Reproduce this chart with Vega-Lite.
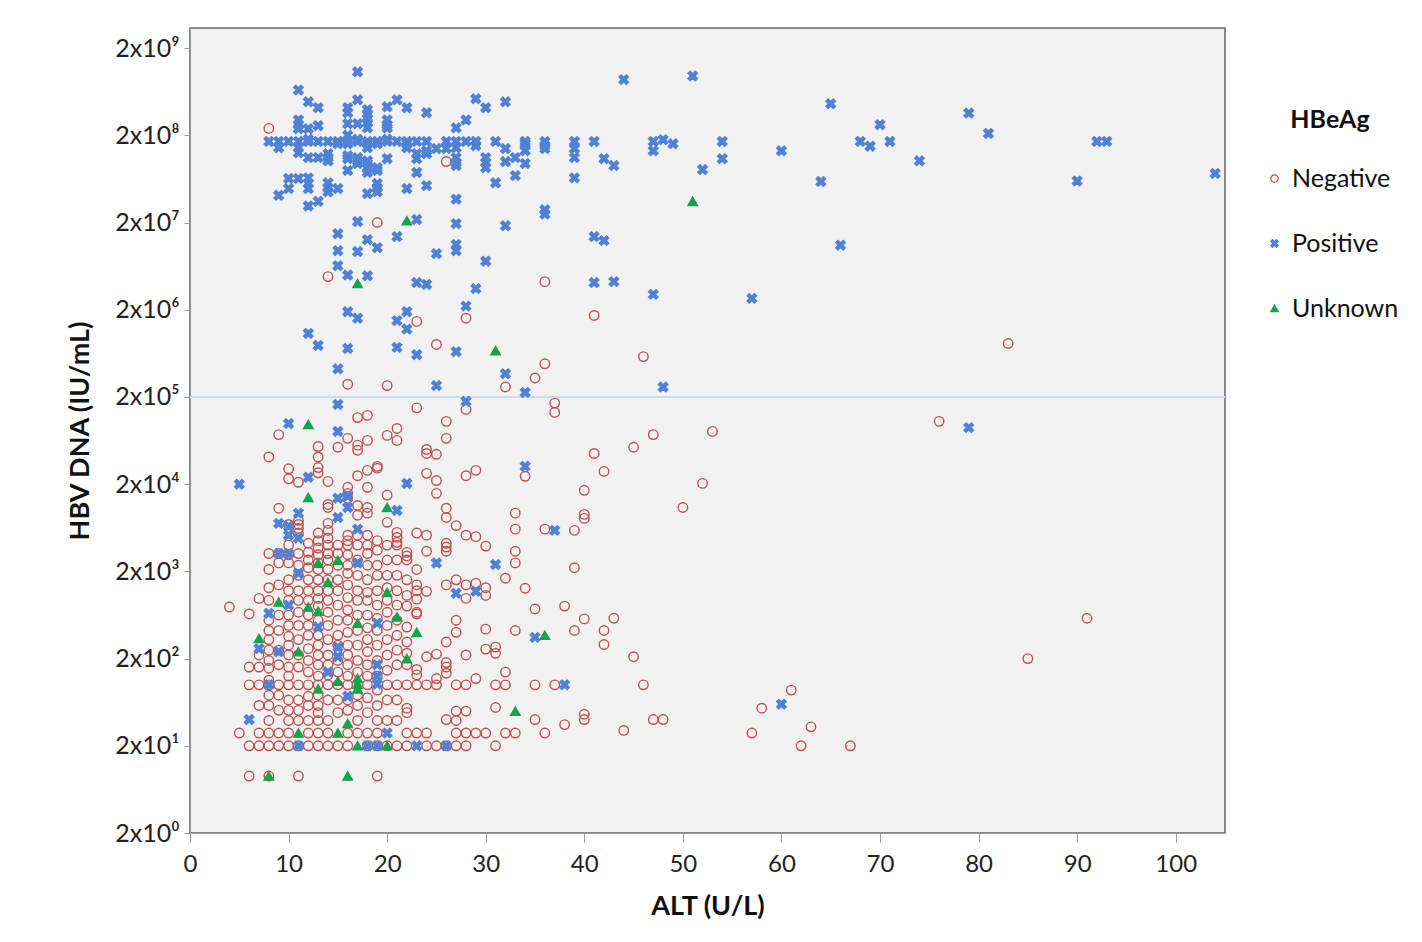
{
"$schema":"https://vega.github.io/schema/vega-lite/v6.json",
"width":1035,"height":805,
"autosize":{"type":"none"},
"padding":{"left":190,"top":28,"right":197,"bottom":109},
"background":"white",
"config":{"font":"Lato","view":{"fill":"#f1f1f1","stroke":"#666666","strokeWidth":1.5},
"axis":{"domainColor":"#999999","tickColor":"#999999","labelColor":"#222222","titleColor":"#111111","labelFont":"Lato","titleFont":"Lato","labelFontSize":24,"titleFontSize":27,"titleFontWeight":"bold","grid":false,"labelFlush":false}},
"data":{"values":[
{"ALT":4,"DNA":780,"HBeAg":"Negative"},
{"ALT":5,"DNA":28,"HBeAg":"Negative"},
{"ALT":6,"DNA":650,"HBeAg":"Negative"},{"ALT":6,"DNA":160,"HBeAg":"Negative"},{"ALT":6,"DNA":100,"HBeAg":"Negative"},{"ALT":6,"DNA":20,"HBeAg":"Negative"},{"ALT":6,"DNA":9,"HBeAg":"Negative"},
{"ALT":7,"DNA":980,"HBeAg":"Negative"},{"ALT":7,"DNA":220,"HBeAg":"Negative"},{"ALT":7,"DNA":160,"HBeAg":"Negative"},{"ALT":7,"DNA":100,"HBeAg":"Negative"},{"ALT":7,"DNA":58,"HBeAg":"Negative"},{"ALT":7,"DNA":28,"HBeAg":"Negative"},{"ALT":7,"DNA":20,"HBeAg":"Negative"},
{"ALT":8,"DNA":2.4e8,"HBeAg":"Negative"},{"ALT":8,"DNA":41000,"HBeAg":"Negative"},{"ALT":8,"DNA":3200,"HBeAg":"Negative"},{"ALT":8,"DNA":2100,"HBeAg":"Negative"},{"ALT":8,"DNA":1300,"HBeAg":"Negative"},{"ALT":8,"DNA":930,"HBeAg":"Negative"},{"ALT":8,"DNA":550,"HBeAg":"Negative"},{"ALT":8,"DNA":420,"HBeAg":"Negative"},{"ALT":8,"DNA":330,"HBeAg":"Negative"},{"ALT":8,"DNA":250,"HBeAg":"Negative"},{"ALT":8,"DNA":190,"HBeAg":"Negative"},{"ALT":8,"DNA":155,"HBeAg":"Negative"},{"ALT":8,"DNA":113,"HBeAg":"Negative"},{"ALT":8,"DNA":100,"HBeAg":"Negative"},{"ALT":8,"DNA":76,"HBeAg":"Negative"},{"ALT":8,"DNA":58,"HBeAg":"Negative"},{"ALT":8,"DNA":39,"HBeAg":"Negative"},{"ALT":8,"DNA":28,"HBeAg":"Negative"},{"ALT":8,"DNA":20,"HBeAg":"Negative"},{"ALT":8,"DNA":9,"HBeAg":"Negative"},
{"ALT":9,"DNA":74000,"HBeAg":"Negative"},{"ALT":9,"DNA":10600,"HBeAg":"Negative"},{"ALT":9,"DNA":3200,"HBeAg":"Negative"},{"ALT":9,"DNA":2500,"HBeAg":"Negative"},{"ALT":9,"DNA":1400,"HBeAg":"Negative"},{"ALT":9,"DNA":630,"HBeAg":"Negative"},{"ALT":9,"DNA":420,"HBeAg":"Negative"},{"ALT":9,"DNA":250,"HBeAg":"Negative"},{"ALT":9,"DNA":170,"HBeAg":"Negative"},{"ALT":9,"DNA":100,"HBeAg":"Negative"},{"ALT":9,"DNA":76,"HBeAg":"Negative"},{"ALT":9,"DNA":51,"HBeAg":"Negative"},{"ALT":9,"DNA":28,"HBeAg":"Negative"},{"ALT":9,"DNA":20,"HBeAg":"Negative"},
{"ALT":10,"DNA":30000,"HBeAg":"Negative"},{"ALT":10,"DNA":23000,"HBeAg":"Negative"},{"ALT":10,"DNA":6900,"HBeAg":"Negative"},{"ALT":10,"DNA":4000,"HBeAg":"Negative"},{"ALT":10,"DNA":3100,"HBeAg":"Negative"},{"ALT":10,"DNA":2500,"HBeAg":"Negative"},{"ALT":10,"DNA":1600,"HBeAg":"Negative"},{"ALT":10,"DNA":1200,"HBeAg":"Negative"},{"ALT":10,"DNA":930,"HBeAg":"Negative"},{"ALT":10,"DNA":630,"HBeAg":"Negative"},{"ALT":10,"DNA":480,"HBeAg":"Negative"},{"ALT":10,"DNA":360,"HBeAg":"Negative"},{"ALT":10,"DNA":285,"HBeAg":"Negative"},{"ALT":10,"DNA":220,"HBeAg":"Negative"},{"ALT":10,"DNA":160,"HBeAg":"Negative"},{"ALT":10,"DNA":126,"HBeAg":"Negative"},{"ALT":10,"DNA":100,"HBeAg":"Negative"},{"ALT":10,"DNA":67,"HBeAg":"Negative"},{"ALT":10,"DNA":51,"HBeAg":"Negative"},{"ALT":10,"DNA":39,"HBeAg":"Negative"},{"ALT":10,"DNA":28,"HBeAg":"Negative"},{"ALT":10,"DNA":20,"HBeAg":"Negative"},
{"ALT":11,"DNA":21000,"HBeAg":"Negative"},{"ALT":11,"DNA":7700,"HBeAg":"Negative"},{"ALT":11,"DNA":6900,"HBeAg":"Negative"},{"ALT":11,"DNA":6200,"HBeAg":"Negative"},{"ALT":11,"DNA":5500,"HBeAg":"Negative"},{"ALT":11,"DNA":3200,"HBeAg":"Negative"},{"ALT":11,"DNA":2350,"HBeAg":"Negative"},{"ALT":11,"DNA":1800,"HBeAg":"Negative"},{"ALT":11,"DNA":1200,"HBeAg":"Negative"},{"ALT":11,"DNA":930,"HBeAg":"Negative"},{"ALT":11,"DNA":680,"HBeAg":"Negative"},{"ALT":11,"DNA":480,"HBeAg":"Negative"},{"ALT":11,"DNA":330,"HBeAg":"Negative"},{"ALT":11,"DNA":220,"HBeAg":"Negative"},{"ALT":11,"DNA":160,"HBeAg":"Negative"},{"ALT":11,"DNA":100,"HBeAg":"Negative"},{"ALT":11,"DNA":67,"HBeAg":"Negative"},{"ALT":11,"DNA":51,"HBeAg":"Negative"},{"ALT":11,"DNA":39,"HBeAg":"Negative"},{"ALT":11,"DNA":20,"HBeAg":"Negative"},{"ALT":11,"DNA":9,"HBeAg":"Negative"},
{"ALT":12,"DNA":4200,"HBeAg":"Negative"},{"ALT":12,"DNA":3300,"HBeAg":"Negative"},{"ALT":12,"DNA":2700,"HBeAg":"Negative"},{"ALT":12,"DNA":2200,"HBeAg":"Negative"},{"ALT":12,"DNA":1600,"HBeAg":"Negative"},{"ALT":12,"DNA":1200,"HBeAg":"Negative"},{"ALT":12,"DNA":930,"HBeAg":"Negative"},{"ALT":12,"DNA":630,"HBeAg":"Negative"},{"ALT":12,"DNA":480,"HBeAg":"Negative"},{"ALT":12,"DNA":370,"HBeAg":"Negative"},{"ALT":12,"DNA":260,"HBeAg":"Negative"},{"ALT":12,"DNA":190,"HBeAg":"Negative"},{"ALT":12,"DNA":140,"HBeAg":"Negative"},{"ALT":12,"DNA":100,"HBeAg":"Negative"},{"ALT":12,"DNA":74,"HBeAg":"Negative"},{"ALT":12,"DNA":58,"HBeAg":"Negative"},{"ALT":12,"DNA":39,"HBeAg":"Negative"},{"ALT":12,"DNA":28,"HBeAg":"Negative"},{"ALT":12,"DNA":20,"HBeAg":"Negative"},
{"ALT":13,"DNA":54000,"HBeAg":"Negative"},{"ALT":13,"DNA":41000,"HBeAg":"Negative"},{"ALT":13,"DNA":31000,"HBeAg":"Negative"},{"ALT":13,"DNA":27000,"HBeAg":"Negative"},{"ALT":13,"DNA":5500,"HBeAg":"Negative"},{"ALT":13,"DNA":4500,"HBeAg":"Negative"},{"ALT":13,"DNA":3700,"HBeAg":"Negative"},{"ALT":13,"DNA":3100,"HBeAg":"Negative"},{"ALT":13,"DNA":2500,"HBeAg":"Negative"},{"ALT":13,"DNA":2100,"HBeAg":"Negative"},{"ALT":13,"DNA":1600,"HBeAg":"Negative"},{"ALT":13,"DNA":1200,"HBeAg":"Negative"},{"ALT":13,"DNA":980,"HBeAg":"Negative"},{"ALT":13,"DNA":800,"HBeAg":"Negative"},{"ALT":13,"DNA":550,"HBeAg":"Negative"},{"ALT":13,"DNA":370,"HBeAg":"Negative"},{"ALT":13,"DNA":285,"HBeAg":"Negative"},{"ALT":13,"DNA":220,"HBeAg":"Negative"},{"ALT":13,"DNA":170,"HBeAg":"Negative"},{"ALT":13,"DNA":126,"HBeAg":"Negative"},{"ALT":13,"DNA":100,"HBeAg":"Negative"},{"ALT":13,"DNA":76,"HBeAg":"Negative"},{"ALT":13,"DNA":58,"HBeAg":"Negative"},{"ALT":13,"DNA":48,"HBeAg":"Negative"},{"ALT":13,"DNA":39,"HBeAg":"Negative"},{"ALT":13,"DNA":28,"HBeAg":"Negative"},{"ALT":13,"DNA":20,"HBeAg":"Negative"},
{"ALT":14,"DNA":4.8e6,"HBeAg":"Negative"},{"ALT":14,"DNA":21500,"HBeAg":"Negative"},{"ALT":14,"DNA":11700,"HBeAg":"Negative"},{"ALT":14,"DNA":10800,"HBeAg":"Negative"},{"ALT":14,"DNA":7100,"HBeAg":"Negative"},{"ALT":14,"DNA":5900,"HBeAg":"Negative"},{"ALT":14,"DNA":4800,"HBeAg":"Negative"},{"ALT":14,"DNA":4000,"HBeAg":"Negative"},{"ALT":14,"DNA":3200,"HBeAg":"Negative"},{"ALT":14,"DNA":2700,"HBeAg":"Negative"},{"ALT":14,"DNA":2100,"HBeAg":"Negative"},{"ALT":14,"DNA":1600,"HBeAg":"Negative"},{"ALT":14,"DNA":1200,"HBeAg":"Negative"},{"ALT":14,"DNA":930,"HBeAg":"Negative"},{"ALT":14,"DNA":680,"HBeAg":"Negative"},{"ALT":14,"DNA":480,"HBeAg":"Negative"},{"ALT":14,"DNA":330,"HBeAg":"Negative"},{"ALT":14,"DNA":220,"HBeAg":"Negative"},{"ALT":14,"DNA":170,"HBeAg":"Negative"},{"ALT":14,"DNA":130,"HBeAg":"Negative"},{"ALT":14,"DNA":100,"HBeAg":"Negative"},{"ALT":14,"DNA":67,"HBeAg":"Negative"},{"ALT":14,"DNA":39,"HBeAg":"Negative"},{"ALT":14,"DNA":28,"HBeAg":"Negative"},{"ALT":14,"DNA":20,"HBeAg":"Negative"},
{"ALT":15,"DNA":53000,"HBeAg":"Negative"},{"ALT":15,"DNA":4000,"HBeAg":"Negative"},{"ALT":15,"DNA":3200,"HBeAg":"Negative"},{"ALT":15,"DNA":2350,"HBeAg":"Negative"},{"ALT":15,"DNA":1600,"HBeAg":"Negative"},{"ALT":15,"DNA":1200,"HBeAg":"Negative"},{"ALT":15,"DNA":820,"HBeAg":"Negative"},{"ALT":15,"DNA":550,"HBeAg":"Negative"},{"ALT":15,"DNA":370,"HBeAg":"Negative"},{"ALT":15,"DNA":285,"HBeAg":"Negative"},{"ALT":15,"DNA":190,"HBeAg":"Negative"},{"ALT":15,"DNA":140,"HBeAg":"Negative"},{"ALT":15,"DNA":100,"HBeAg":"Negative"},{"ALT":15,"DNA":67,"HBeAg":"Negative"},{"ALT":15,"DNA":48,"HBeAg":"Negative"},{"ALT":15,"DNA":20,"HBeAg":"Negative"},
{"ALT":16,"DNA":280000,"HBeAg":"Negative"},{"ALT":16,"DNA":67000,"HBeAg":"Negative"},{"ALT":16,"DNA":18400,"HBeAg":"Negative"},{"ALT":16,"DNA":15700,"HBeAg":"Negative"},{"ALT":16,"DNA":13700,"HBeAg":"Negative"},{"ALT":16,"DNA":5200,"HBeAg":"Negative"},{"ALT":16,"DNA":4500,"HBeAg":"Negative"},{"ALT":16,"DNA":4000,"HBeAg":"Negative"},{"ALT":16,"DNA":3100,"HBeAg":"Negative"},{"ALT":16,"DNA":2350,"HBeAg":"Negative"},{"ALT":16,"DNA":1900,"HBeAg":"Negative"},{"ALT":16,"DNA":1400,"HBeAg":"Negative"},{"ALT":16,"DNA":1000,"HBeAg":"Negative"},{"ALT":16,"DNA":720,"HBeAg":"Negative"},{"ALT":16,"DNA":550,"HBeAg":"Negative"},{"ALT":16,"DNA":400,"HBeAg":"Negative"},{"ALT":16,"DNA":285,"HBeAg":"Negative"},{"ALT":16,"DNA":220,"HBeAg":"Negative"},{"ALT":16,"DNA":170,"HBeAg":"Negative"},{"ALT":16,"DNA":126,"HBeAg":"Negative"},{"ALT":16,"DNA":100,"HBeAg":"Negative"},{"ALT":16,"DNA":67,"HBeAg":"Negative"},{"ALT":16,"DNA":51,"HBeAg":"Negative"},{"ALT":16,"DNA":28,"HBeAg":"Negative"},{"ALT":16,"DNA":20,"HBeAg":"Negative"},
{"ALT":17,"DNA":116000,"HBeAg":"Negative"},{"ALT":17,"DNA":56000,"HBeAg":"Negative"},{"ALT":17,"DNA":49000,"HBeAg":"Negative"},{"ALT":17,"DNA":25000,"HBeAg":"Negative"},{"ALT":17,"DNA":11400,"HBeAg":"Negative"},{"ALT":17,"DNA":8800,"HBeAg":"Negative"},{"ALT":17,"DNA":5200,"HBeAg":"Negative"},{"ALT":17,"DNA":4000,"HBeAg":"Negative"},{"ALT":17,"DNA":2700,"HBeAg":"Negative"},{"ALT":17,"DNA":1800,"HBeAg":"Negative"},{"ALT":17,"DNA":1200,"HBeAg":"Negative"},{"ALT":17,"DNA":930,"HBeAg":"Negative"},{"ALT":17,"DNA":630,"HBeAg":"Negative"},{"ALT":17,"DNA":420,"HBeAg":"Negative"},{"ALT":17,"DNA":285,"HBeAg":"Negative"},{"ALT":17,"DNA":190,"HBeAg":"Negative"},{"ALT":17,"DNA":140,"HBeAg":"Negative"},{"ALT":17,"DNA":76,"HBeAg":"Negative"},{"ALT":17,"DNA":58,"HBeAg":"Negative"},{"ALT":17,"DNA":39,"HBeAg":"Negative"},{"ALT":17,"DNA":28,"HBeAg":"Negative"},
{"ALT":18,"DNA":123000,"HBeAg":"Negative"},{"ALT":18,"DNA":63500,"HBeAg":"Negative"},{"ALT":18,"DNA":28800,"HBeAg":"Negative"},{"ALT":18,"DNA":18400,"HBeAg":"Negative"},{"ALT":18,"DNA":10800,"HBeAg":"Negative"},{"ALT":18,"DNA":9300,"HBeAg":"Negative"},{"ALT":18,"DNA":5200,"HBeAg":"Negative"},{"ALT":18,"DNA":4000,"HBeAg":"Negative"},{"ALT":18,"DNA":3200,"HBeAg":"Negative"},{"ALT":18,"DNA":2350,"HBeAg":"Negative"},{"ALT":18,"DNA":1600,"HBeAg":"Negative"},{"ALT":18,"DNA":1150,"HBeAg":"Negative"},{"ALT":18,"DNA":930,"HBeAg":"Negative"},{"ALT":18,"DNA":630,"HBeAg":"Negative"},{"ALT":18,"DNA":450,"HBeAg":"Negative"},{"ALT":18,"DNA":330,"HBeAg":"Negative"},{"ALT":18,"DNA":240,"HBeAg":"Negative"},{"ALT":18,"DNA":170,"HBeAg":"Negative"},{"ALT":18,"DNA":126,"HBeAg":"Negative"},{"ALT":18,"DNA":100,"HBeAg":"Negative"},{"ALT":18,"DNA":71,"HBeAg":"Negative"},{"ALT":18,"DNA":48,"HBeAg":"Negative"},{"ALT":18,"DNA":28,"HBeAg":"Negative"},{"ALT":18,"DNA":20,"HBeAg":"Negative"},
{"ALT":19,"DNA":2.0e7,"HBeAg":"Negative"},{"ALT":19,"DNA":32000,"HBeAg":"Negative"},{"ALT":19,"DNA":30500,"HBeAg":"Negative"},{"ALT":19,"DNA":4500,"HBeAg":"Negative"},{"ALT":19,"DNA":3500,"HBeAg":"Negative"},{"ALT":19,"DNA":2350,"HBeAg":"Negative"},{"ALT":19,"DNA":1800,"HBeAg":"Negative"},{"ALT":19,"DNA":1200,"HBeAg":"Negative"},{"ALT":19,"DNA":820,"HBeAg":"Negative"},{"ALT":19,"DNA":580,"HBeAg":"Negative"},{"ALT":19,"DNA":420,"HBeAg":"Negative"},{"ALT":19,"DNA":285,"HBeAg":"Negative"},{"ALT":19,"DNA":190,"HBeAg":"Negative"},{"ALT":19,"DNA":126,"HBeAg":"Negative"},{"ALT":19,"DNA":87,"HBeAg":"Negative"},{"ALT":19,"DNA":58,"HBeAg":"Negative"},{"ALT":19,"DNA":39,"HBeAg":"Negative"},{"ALT":19,"DNA":28,"HBeAg":"Negative"},{"ALT":19,"DNA":20,"HBeAg":"Negative"},{"ALT":19,"DNA":9,"HBeAg":"Negative"},
{"ALT":20,"DNA":270000,"HBeAg":"Negative"},{"ALT":20,"DNA":72500,"HBeAg":"Negative"},{"ALT":20,"DNA":15000,"HBeAg":"Negative"},{"ALT":20,"DNA":7300,"HBeAg":"Negative"},{"ALT":20,"DNA":4000,"HBeAg":"Negative"},{"ALT":20,"DNA":2700,"HBeAg":"Negative"},{"ALT":20,"DNA":1800,"HBeAg":"Negative"},{"ALT":20,"DNA":1300,"HBeAg":"Negative"},{"ALT":20,"DNA":930,"HBeAg":"Negative"},{"ALT":20,"DNA":680,"HBeAg":"Negative"},{"ALT":20,"DNA":480,"HBeAg":"Negative"},{"ALT":20,"DNA":330,"HBeAg":"Negative"},{"ALT":20,"DNA":220,"HBeAg":"Negative"},{"ALT":20,"DNA":147,"HBeAg":"Negative"},{"ALT":20,"DNA":100,"HBeAg":"Negative"},{"ALT":20,"DNA":67,"HBeAg":"Negative"},{"ALT":20,"DNA":39,"HBeAg":"Negative"},{"ALT":20,"DNA":20,"HBeAg":"Negative"},
{"ALT":21,"DNA":87000,"HBeAg":"Negative"},{"ALT":21,"DNA":63500,"HBeAg":"Negative"},{"ALT":21,"DNA":5600,"HBeAg":"Negative"},{"ALT":21,"DNA":4900,"HBeAg":"Negative"},{"ALT":21,"DNA":4300,"HBeAg":"Negative"},{"ALT":21,"DNA":4000,"HBeAg":"Negative"},{"ALT":21,"DNA":2700,"HBeAg":"Negative"},{"ALT":21,"DNA":1800,"HBeAg":"Negative"},{"ALT":21,"DNA":1200,"HBeAg":"Negative"},{"ALT":21,"DNA":820,"HBeAg":"Negative"},{"ALT":21,"DNA":550,"HBeAg":"Negative"},{"ALT":21,"DNA":370,"HBeAg":"Negative"},{"ALT":21,"DNA":250,"HBeAg":"Negative"},{"ALT":21,"DNA":170,"HBeAg":"Negative"},{"ALT":21,"DNA":100,"HBeAg":"Negative"},{"ALT":21,"DNA":67,"HBeAg":"Negative"},{"ALT":21,"DNA":39,"HBeAg":"Negative"},{"ALT":21,"DNA":20,"HBeAg":"Negative"},
{"ALT":22,"DNA":3300,"HBeAg":"Negative"},{"ALT":22,"DNA":3000,"HBeAg":"Negative"},{"ALT":22,"DNA":2700,"HBeAg":"Negative"},{"ALT":22,"DNA":1600,"HBeAg":"Negative"},{"ALT":22,"DNA":1060,"HBeAg":"Negative"},{"ALT":22,"DNA":800,"HBeAg":"Negative"},{"ALT":22,"DNA":460,"HBeAg":"Negative"},{"ALT":22,"DNA":310,"HBeAg":"Negative"},{"ALT":22,"DNA":230,"HBeAg":"Negative"},{"ALT":22,"DNA":170,"HBeAg":"Negative"},{"ALT":22,"DNA":100,"HBeAg":"Negative"},{"ALT":22,"DNA":54,"HBeAg":"Negative"},{"ALT":22,"DNA":48,"HBeAg":"Negative"},{"ALT":22,"DNA":28,"HBeAg":"Negative"},{"ALT":22,"DNA":20,"HBeAg":"Negative"},
{"ALT":23,"DNA":1.47e6,"HBeAg":"Negative"},{"ALT":23,"DNA":150000,"HBeAg":"Negative"},{"ALT":23,"DNA":5500,"HBeAg":"Negative"},{"ALT":23,"DNA":2100,"HBeAg":"Negative"},{"ALT":23,"DNA":1400,"HBeAg":"Negative"},{"ALT":23,"DNA":1200,"HBeAg":"Negative"},{"ALT":23,"DNA":960,"HBeAg":"Negative"},{"ALT":23,"DNA":680,"HBeAg":"Negative"},{"ALT":23,"DNA":650,"HBeAg":"Negative"},{"ALT":23,"DNA":150,"HBeAg":"Negative"},{"ALT":23,"DNA":130,"HBeAg":"Negative"},{"ALT":23,"DNA":100,"HBeAg":"Negative"},{"ALT":23,"DNA":28,"HBeAg":"Negative"},
{"ALT":24,"DNA":50000,"HBeAg":"Negative"},{"ALT":24,"DNA":45000,"HBeAg":"Negative"},{"ALT":24,"DNA":26600,"HBeAg":"Negative"},{"ALT":24,"DNA":5200,"HBeAg":"Negative"},{"ALT":24,"DNA":3400,"HBeAg":"Negative"},{"ALT":24,"DNA":1180,"HBeAg":"Negative"},{"ALT":24,"DNA":210,"HBeAg":"Negative"},{"ALT":24,"DNA":100,"HBeAg":"Negative"},{"ALT":24,"DNA":28,"HBeAg":"Negative"},{"ALT":24,"DNA":20,"HBeAg":"Negative"},
{"ALT":25,"DNA":800000,"HBeAg":"Negative"},{"ALT":25,"DNA":44000,"HBeAg":"Negative"},{"ALT":25,"DNA":22000,"HBeAg":"Negative"},{"ALT":25,"DNA":15700,"HBeAg":"Negative"},{"ALT":25,"DNA":225,"HBeAg":"Negative"},{"ALT":25,"DNA":118,"HBeAg":"Negative"},{"ALT":25,"DNA":100,"HBeAg":"Negative"},{"ALT":25,"DNA":20,"HBeAg":"Negative"},
{"ALT":26,"DNA":1.0e8,"HBeAg":"Negative"},{"ALT":26,"DNA":105000,"HBeAg":"Negative"},{"ALT":26,"DNA":67000,"HBeAg":"Negative"},{"ALT":26,"DNA":10600,"HBeAg":"Negative"},{"ALT":26,"DNA":8300,"HBeAg":"Negative"},{"ALT":26,"DNA":4200,"HBeAg":"Negative"},{"ALT":26,"DNA":3800,"HBeAg":"Negative"},{"ALT":26,"DNA":3400,"HBeAg":"Negative"},{"ALT":26,"DNA":1400,"HBeAg":"Negative"},{"ALT":26,"DNA":310,"HBeAg":"Negative"},{"ALT":26,"DNA":180,"HBeAg":"Negative"},{"ALT":26,"DNA":160,"HBeAg":"Negative"},{"ALT":26,"DNA":136,"HBeAg":"Negative"},{"ALT":26,"DNA":40,"HBeAg":"Negative"},{"ALT":26,"DNA":20,"HBeAg":"Negative"},
{"ALT":27,"DNA":6700,"HBeAg":"Negative"},{"ALT":27,"DNA":1600,"HBeAg":"Negative"},{"ALT":27,"DNA":550,"HBeAg":"Negative"},{"ALT":27,"DNA":400,"HBeAg":"Negative"},{"ALT":27,"DNA":100,"HBeAg":"Negative"},{"ALT":27,"DNA":50,"HBeAg":"Negative"},{"ALT":27,"DNA":39,"HBeAg":"Negative"},{"ALT":27,"DNA":28,"HBeAg":"Negative"},{"ALT":27,"DNA":20,"HBeAg":"Negative"},
{"ALT":28,"DNA":1.6e6,"HBeAg":"Negative"},{"ALT":28,"DNA":144000,"HBeAg":"Negative"},{"ALT":28,"DNA":25000,"HBeAg":"Negative"},{"ALT":28,"DNA":5200,"HBeAg":"Negative"},{"ALT":28,"DNA":1400,"HBeAg":"Negative"},{"ALT":28,"DNA":980,"HBeAg":"Negative"},{"ALT":28,"DNA":220,"HBeAg":"Negative"},{"ALT":28,"DNA":100,"HBeAg":"Negative"},{"ALT":28,"DNA":50,"HBeAg":"Negative"},{"ALT":28,"DNA":28,"HBeAg":"Negative"},{"ALT":28,"DNA":20,"HBeAg":"Negative"},
{"ALT":29,"DNA":28800,"HBeAg":"Negative"},{"ALT":29,"DNA":5000,"HBeAg":"Negative"},{"ALT":29,"DNA":1460,"HBeAg":"Negative"},{"ALT":29,"DNA":118,"HBeAg":"Negative"},{"ALT":29,"DNA":28,"HBeAg":"Negative"},
{"ALT":30,"DNA":3900,"HBeAg":"Negative"},{"ALT":30,"DNA":1300,"HBeAg":"Negative"},{"ALT":30,"DNA":1060,"HBeAg":"Negative"},{"ALT":30,"DNA":435,"HBeAg":"Negative"},{"ALT":30,"DNA":257,"HBeAg":"Negative"},{"ALT":30,"DNA":28,"HBeAg":"Negative"},
{"ALT":31,"DNA":271,"HBeAg":"Negative"},{"ALT":31,"DNA":230,"HBeAg":"Negative"},{"ALT":31,"DNA":100,"HBeAg":"Negative"},{"ALT":31,"DNA":55,"HBeAg":"Negative"},{"ALT":31,"DNA":20,"HBeAg":"Negative"},
{"ALT":32,"DNA":260000,"HBeAg":"Negative"},{"ALT":32,"DNA":1670,"HBeAg":"Negative"},{"ALT":32,"DNA":140,"HBeAg":"Negative"},{"ALT":32,"DNA":100,"HBeAg":"Negative"},{"ALT":32,"DNA":28,"HBeAg":"Negative"},
{"ALT":33,"DNA":9300,"HBeAg":"Negative"},{"ALT":33,"DNA":6100,"HBeAg":"Negative"},{"ALT":33,"DNA":3400,"HBeAg":"Negative"},{"ALT":33,"DNA":2500,"HBeAg":"Negative"},{"ALT":33,"DNA":420,"HBeAg":"Negative"},{"ALT":33,"DNA":28,"HBeAg":"Negative"},
{"ALT":34,"DNA":24600,"HBeAg":"Negative"},{"ALT":34,"DNA":1280,"HBeAg":"Negative"},
{"ALT":35,"DNA":330000,"HBeAg":"Negative"},{"ALT":35,"DNA":740,"HBeAg":"Negative"},{"ALT":35,"DNA":100,"HBeAg":"Negative"},{"ALT":35,"DNA":40,"HBeAg":"Negative"},
{"ALT":36,"DNA":4.2e6,"HBeAg":"Negative"},{"ALT":36,"DNA":480000,"HBeAg":"Negative"},{"ALT":36,"DNA":6100,"HBeAg":"Negative"},{"ALT":36,"DNA":28,"HBeAg":"Negative"},
{"ALT":37,"DNA":170000,"HBeAg":"Negative"},{"ALT":37,"DNA":133000,"HBeAg":"Negative"},{"ALT":37,"DNA":100,"HBeAg":"Negative"},
{"ALT":38,"DNA":800,"HBeAg":"Negative"},{"ALT":38,"DNA":35,"HBeAg":"Negative"},
{"ALT":39,"DNA":5900,"HBeAg":"Negative"},{"ALT":39,"DNA":2200,"HBeAg":"Negative"},{"ALT":39,"DNA":420,"HBeAg":"Negative"},
{"ALT":40,"DNA":17000,"HBeAg":"Negative"},{"ALT":40,"DNA":9000,"HBeAg":"Negative"},{"ALT":40,"DNA":8100,"HBeAg":"Negative"},{"ALT":40,"DNA":570,"HBeAg":"Negative"},{"ALT":40,"DNA":46,"HBeAg":"Negative"},{"ALT":40,"DNA":40,"HBeAg":"Negative"},
{"ALT":41,"DNA":1.72e6,"HBeAg":"Negative"},{"ALT":41,"DNA":45000,"HBeAg":"Negative"},
{"ALT":42,"DNA":28000,"HBeAg":"Negative"},{"ALT":42,"DNA":420,"HBeAg":"Negative"},{"ALT":42,"DNA":290,"HBeAg":"Negative"},
{"ALT":43,"DNA":580,"HBeAg":"Negative"},
{"ALT":44,"DNA":30,"HBeAg":"Negative"},
{"ALT":45,"DNA":53000,"HBeAg":"Negative"},{"ALT":45,"DNA":210,"HBeAg":"Negative"},
{"ALT":46,"DNA":580000,"HBeAg":"Negative"},{"ALT":46,"DNA":100,"HBeAg":"Negative"},
{"ALT":47,"DNA":74000,"HBeAg":"Negative"},{"ALT":47,"DNA":40,"HBeAg":"Negative"},
{"ALT":48,"DNA":40,"HBeAg":"Negative"},
{"ALT":50,"DNA":10800,"HBeAg":"Negative"},
{"ALT":52,"DNA":20400,"HBeAg":"Negative"},
{"ALT":53,"DNA":80500,"HBeAg":"Negative"},
{"ALT":57,"DNA":28,"HBeAg":"Negative"},
{"ALT":58,"DNA":54,"HBeAg":"Negative"},
{"ALT":61,"DNA":87,"HBeAg":"Negative"},
{"ALT":62,"DNA":20,"HBeAg":"Negative"},
{"ALT":63,"DNA":33,"HBeAg":"Negative"},
{"ALT":67,"DNA":20,"HBeAg":"Negative"},
{"ALT":76,"DNA":105000,"HBeAg":"Negative"},
{"ALT":83,"DNA":820000,"HBeAg":"Negative"},
{"ALT":85,"DNA":200,"HBeAg":"Negative"},
{"ALT":91,"DNA":580,"HBeAg":"Negative"},
{"ALT":17,"DNA":1.07e9,"HBeAg":"Positive"},{"ALT":11,"DNA":6.6e8,"HBeAg":"Positive"},{"ALT":12,"DNA":4.85e8,"HBeAg":"Positive"},{"ALT":13,"DNA":4.14e8,"HBeAg":"Positive"},{"ALT":17,"DNA":5.1e8,"HBeAg":"Positive"},{"ALT":16,"DNA":4.14e8,"HBeAg":"Positive"},{"ALT":16,"DNA":3.63e8,"HBeAg":"Positive"},{"ALT":18,"DNA":3.93e8,"HBeAg":"Positive"},{"ALT":18,"DNA":3.53e8,"HBeAg":"Positive"},{"ALT":18,"DNA":3.1e8,"HBeAg":"Positive"},{"ALT":20,"DNA":4.25e8,"HBeAg":"Positive"},{"ALT":21,"DNA":5.1e8,"HBeAg":"Positive"},{"ALT":22,"DNA":4.14e8,"HBeAg":"Positive"},{"ALT":24,"DNA":3.63e8,"HBeAg":"Positive"},{"ALT":29,"DNA":5.25e8,"HBeAg":"Positive"},{"ALT":30,"DNA":4.14e8,"HBeAg":"Positive"},{"ALT":32,"DNA":4.85e8,"HBeAg":"Positive"},{"ALT":28,"DNA":3.0e8,"HBeAg":"Positive"},{"ALT":27,"DNA":2.44e8,"HBeAg":"Positive"},{"ALT":11,"DNA":3.0e8,"HBeAg":"Positive"},{"ALT":11,"DNA":2.64e8,"HBeAg":"Positive"},{"ALT":11,"DNA":2.38e8,"HBeAg":"Positive"},{"ALT":12,"DNA":2.38e8,"HBeAg":"Positive"},{"ALT":13,"DNA":2.58e8,"HBeAg":"Positive"},{"ALT":16,"DNA":2.72e8,"HBeAg":"Positive"},{"ALT":17,"DNA":2.72e8,"HBeAg":"Positive"},{"ALT":18,"DNA":2.79e8,"HBeAg":"Positive"},{"ALT":18,"DNA":2.44e8,"HBeAg":"Positive"},{"ALT":20,"DNA":3.0e8,"HBeAg":"Positive"},{"ALT":20,"DNA":2.64e8,"HBeAg":"Positive"},{"ALT":20,"DNA":2.44e8,"HBeAg":"Positive"},{"ALT":16,"DNA":2.0e8,"HBeAg":"Positive"},
{"ALT":8,"DNA":1.7e8,"HBeAg":"Positive"},{"ALT":9,"DNA":1.7e8,"HBeAg":"Positive"},{"ALT":10,"DNA":1.7e8,"HBeAg":"Positive"},{"ALT":11,"DNA":1.7e8,"HBeAg":"Positive"},{"ALT":12,"DNA":1.7e8,"HBeAg":"Positive"},{"ALT":13,"DNA":1.7e8,"HBeAg":"Positive"},{"ALT":14,"DNA":1.7e8,"HBeAg":"Positive"},{"ALT":15,"DNA":1.7e8,"HBeAg":"Positive"},{"ALT":16,"DNA":1.7e8,"HBeAg":"Positive"},{"ALT":17,"DNA":1.7e8,"HBeAg":"Positive"},{"ALT":18,"DNA":1.7e8,"HBeAg":"Positive"},{"ALT":19,"DNA":1.7e8,"HBeAg":"Positive"},{"ALT":20,"DNA":1.7e8,"HBeAg":"Positive"},{"ALT":21,"DNA":1.7e8,"HBeAg":"Positive"},{"ALT":22,"DNA":1.7e8,"HBeAg":"Positive"},{"ALT":23,"DNA":1.7e8,"HBeAg":"Positive"},{"ALT":24,"DNA":1.7e8,"HBeAg":"Positive"},{"ALT":26,"DNA":1.7e8,"HBeAg":"Positive"},{"ALT":27,"DNA":1.7e8,"HBeAg":"Positive"},{"ALT":28,"DNA":1.7e8,"HBeAg":"Positive"},{"ALT":29,"DNA":1.7e8,"HBeAg":"Positive"},{"ALT":31,"DNA":1.7e8,"HBeAg":"Positive"},{"ALT":34,"DNA":1.7e8,"HBeAg":"Positive"},{"ALT":36,"DNA":1.7e8,"HBeAg":"Positive"},{"ALT":39,"DNA":1.7e8,"HBeAg":"Positive"},{"ALT":41,"DNA":1.7e8,"HBeAg":"Positive"},{"ALT":47,"DNA":1.7e8,"HBeAg":"Positive"},{"ALT":54,"DNA":1.7e8,"HBeAg":"Positive"},{"ALT":68,"DNA":1.7e8,"HBeAg":"Positive"},{"ALT":71,"DNA":1.7e8,"HBeAg":"Positive"},{"ALT":92,"DNA":1.7e8,"HBeAg":"Positive"},{"ALT":93,"DNA":1.7e8,"HBeAg":"Positive"},
{"ALT":48,"DNA":1.78e8,"HBeAg":"Positive"},{"ALT":49,"DNA":1.6e8,"HBeAg":"Positive"},{"ALT":12,"DNA":1.8e8,"HBeAg":"Positive"},{"ALT":15,"DNA":1.6e8,"HBeAg":"Positive"},{"ALT":17,"DNA":1.8e8,"HBeAg":"Positive"},{"ALT":18,"DNA":1.6e8,"HBeAg":"Positive"},{"ALT":20,"DNA":1.8e8,"HBeAg":"Positive"},{"ALT":22,"DNA":1.6e8,"HBeAg":"Positive"},{"ALT":16,"DNA":1.6e8,"HBeAg":"Positive"},{"ALT":19,"DNA":1.6e8,"HBeAg":"Positive"},
{"ALT":9,"DNA":1.44e8,"HBeAg":"Positive"},{"ALT":11,"DNA":1.44e8,"HBeAg":"Positive"},{"ALT":11,"DNA":1.26e8,"HBeAg":"Positive"},{"ALT":18,"DNA":1.44e8,"HBeAg":"Positive"},{"ALT":22,"DNA":1.44e8,"HBeAg":"Positive"},{"ALT":24,"DNA":1.33e8,"HBeAg":"Positive"},{"ALT":24,"DNA":1.23e8,"HBeAg":"Positive"},{"ALT":25,"DNA":1.41e8,"HBeAg":"Positive"},{"ALT":26,"DNA":1.41e8,"HBeAg":"Positive"},{"ALT":27,"DNA":1.44e8,"HBeAg":"Positive"},{"ALT":29,"DNA":1.52e8,"HBeAg":"Positive"},{"ALT":32,"DNA":1.41e8,"HBeAg":"Positive"},{"ALT":34,"DNA":1.6e8,"HBeAg":"Positive"},{"ALT":34,"DNA":1.33e8,"HBeAg":"Positive"},{"ALT":36,"DNA":1.52e8,"HBeAg":"Positive"},{"ALT":36,"DNA":1.41e8,"HBeAg":"Positive"},{"ALT":39,"DNA":1.41e8,"HBeAg":"Positive"},{"ALT":39,"DNA":1.11e8,"HBeAg":"Positive"},{"ALT":12,"DNA":1.11e8,"HBeAg":"Positive"},{"ALT":13,"DNA":1.11e8,"HBeAg":"Positive"},{"ALT":14,"DNA":1.23e8,"HBeAg":"Positive"},{"ALT":14,"DNA":1.11e8,"HBeAg":"Positive"},{"ALT":14,"DNA":1.02e8,"HBeAg":"Positive"},{"ALT":16,"DNA":1.17e8,"HBeAg":"Positive"},{"ALT":16,"DNA":1.08e8,"HBeAg":"Positive"},{"ALT":17,"DNA":1.11e8,"HBeAg":"Positive"},{"ALT":17,"DNA":1.02e8,"HBeAg":"Positive"},{"ALT":17,"DNA":9.5e7,"HBeAg":"Positive"},{"ALT":18,"DNA":1.02e8,"HBeAg":"Positive"},{"ALT":18,"DNA":9.5e7,"HBeAg":"Positive"},{"ALT":20,"DNA":1.08e8,"HBeAg":"Positive"},{"ALT":23,"DNA":1.23e8,"HBeAg":"Positive"},{"ALT":23,"DNA":1.08e8,"HBeAg":"Positive"},{"ALT":27,"DNA":1.11e8,"HBeAg":"Positive"},{"ALT":27,"DNA":9.7e7,"HBeAg":"Positive"},{"ALT":27,"DNA":9.0e7,"HBeAg":"Positive"},{"ALT":30,"DNA":1.11e8,"HBeAg":"Positive"},{"ALT":30,"DNA":9.7e7,"HBeAg":"Positive"},{"ALT":30,"DNA":8.5e7,"HBeAg":"Positive"},{"ALT":32,"DNA":1.0e8,"HBeAg":"Positive"},{"ALT":33,"DNA":1.11e8,"HBeAg":"Positive"},{"ALT":34,"DNA":9.5e7,"HBeAg":"Positive"},{"ALT":16,"DNA":7.9e7,"HBeAg":"Positive"},{"ALT":18,"DNA":8.3e7,"HBeAg":"Positive"},{"ALT":18,"DNA":7.5e7,"HBeAg":"Positive"},{"ALT":19,"DNA":8.5e7,"HBeAg":"Positive"},{"ALT":19,"DNA":7.9e7,"HBeAg":"Positive"},{"ALT":23,"DNA":7.5e7,"HBeAg":"Positive"},{"ALT":10,"DNA":6.4e7,"HBeAg":"Positive"},{"ALT":10,"DNA":4.9e7,"HBeAg":"Positive"},{"ALT":11,"DNA":6.4e7,"HBeAg":"Positive"},{"ALT":12,"DNA":6.5e7,"HBeAg":"Positive"},{"ALT":12,"DNA":5.6e7,"HBeAg":"Positive"},{"ALT":12,"DNA":4.9e7,"HBeAg":"Positive"},{"ALT":14,"DNA":5.7e7,"HBeAg":"Positive"},{"ALT":14,"DNA":5.0e7,"HBeAg":"Positive"},{"ALT":14,"DNA":4.5e7,"HBeAg":"Positive"},{"ALT":15,"DNA":4.9e7,"HBeAg":"Positive"},{"ALT":19,"DNA":5.6e7,"HBeAg":"Positive"},{"ALT":19,"DNA":5.0e7,"HBeAg":"Positive"},{"ALT":19,"DNA":4.5e7,"HBeAg":"Positive"},{"ALT":18,"DNA":4.3e7,"HBeAg":"Positive"},{"ALT":22,"DNA":4.9e7,"HBeAg":"Positive"},{"ALT":24,"DNA":5.3e7,"HBeAg":"Positive"},{"ALT":31,"DNA":5.7e7,"HBeAg":"Positive"},{"ALT":33,"DNA":6.9e7,"HBeAg":"Positive"},{"ALT":39,"DNA":6.5e7,"HBeAg":"Positive"},{"ALT":9,"DNA":4.1e7,"HBeAg":"Positive"},{"ALT":12,"DNA":3.1e7,"HBeAg":"Positive"},{"ALT":13,"DNA":3.5e7,"HBeAg":"Positive"},{"ALT":27,"DNA":3.7e7,"HBeAg":"Positive"},{"ALT":36,"DNA":2.8e7,"HBeAg":"Positive"},{"ALT":36,"DNA":2.5e7,"HBeAg":"Positive"},{"ALT":17,"DNA":2.05e7,"HBeAg":"Positive"},{"ALT":23,"DNA":2.16e7,"HBeAg":"Positive"},{"ALT":27,"DNA":1.94e7,"HBeAg":"Positive"},{"ALT":32,"DNA":1.84e7,"HBeAg":"Positive"},{"ALT":15,"DNA":1.49e7,"HBeAg":"Positive"},{"ALT":15,"DNA":9.5e6,"HBeAg":"Positive"},{"ALT":15,"DNA":6.4e6,"HBeAg":"Positive"},{"ALT":17,"DNA":9.3e6,"HBeAg":"Positive"},{"ALT":18,"DNA":1.27e7,"HBeAg":"Positive"},{"ALT":19,"DNA":1.03e7,"HBeAg":"Positive"},{"ALT":21,"DNA":1.38e7,"HBeAg":"Positive"},{"ALT":25,"DNA":8.8e6,"HBeAg":"Positive"},{"ALT":27,"DNA":1.12e7,"HBeAg":"Positive"},{"ALT":27,"DNA":9.5e6,"HBeAg":"Positive"},{"ALT":30,"DNA":7.2e6,"HBeAg":"Positive"},
{"ALT":44,"DNA":8.7e8,"HBeAg":"Positive"},{"ALT":51,"DNA":9.6e8,"HBeAg":"Positive"},{"ALT":65,"DNA":4.6e8,"HBeAg":"Positive"},{"ALT":79,"DNA":3.6e8,"HBeAg":"Positive"},{"ALT":70,"DNA":2.65e8,"HBeAg":"Positive"},{"ALT":81,"DNA":2.1e8,"HBeAg":"Positive"},{"ALT":69,"DNA":1.5e8,"HBeAg":"Positive"},{"ALT":74,"DNA":1.02e8,"HBeAg":"Positive"},{"ALT":90,"DNA":6.0e7,"HBeAg":"Positive"},{"ALT":104,"DNA":7.3e7,"HBeAg":"Positive"},{"ALT":60,"DNA":1.33e8,"HBeAg":"Positive"},{"ALT":64,"DNA":5.9e7,"HBeAg":"Positive"},{"ALT":42,"DNA":1.08e8,"HBeAg":"Positive"},{"ALT":43,"DNA":9.0e7,"HBeAg":"Positive"},{"ALT":47,"DNA":1.33e8,"HBeAg":"Positive"},{"ALT":52,"DNA":8.1e7,"HBeAg":"Positive"},{"ALT":54,"DNA":1.08e8,"HBeAg":"Positive"},{"ALT":41,"DNA":1.38e7,"HBeAg":"Positive"},{"ALT":42,"DNA":1.24e7,"HBeAg":"Positive"},{"ALT":66,"DNA":1.1e7,"HBeAg":"Positive"},{"ALT":41,"DNA":4.1e6,"HBeAg":"Positive"},{"ALT":43,"DNA":4.2e6,"HBeAg":"Positive"},{"ALT":47,"DNA":3.0e6,"HBeAg":"Positive"},{"ALT":57,"DNA":2.7e6,"HBeAg":"Positive"},{"ALT":48,"DNA":260000,"HBeAg":"Positive"},{"ALT":79,"DNA":89000,"HBeAg":"Positive"},
{"ALT":16,"DNA":5.0e6,"HBeAg":"Positive"},{"ALT":18,"DNA":4.9e6,"HBeAg":"Positive"},{"ALT":23,"DNA":4.1e6,"HBeAg":"Positive"},{"ALT":24,"DNA":3.9e6,"HBeAg":"Positive"},{"ALT":29,"DNA":3.5e6,"HBeAg":"Positive"},{"ALT":28,"DNA":2.2e6,"HBeAg":"Positive"},{"ALT":16,"DNA":1.9e6,"HBeAg":"Positive"},{"ALT":17,"DNA":1.6e6,"HBeAg":"Positive"},{"ALT":22,"DNA":1.9e6,"HBeAg":"Positive"},{"ALT":21,"DNA":1.5e6,"HBeAg":"Positive"},{"ALT":22,"DNA":1.2e6,"HBeAg":"Positive"},{"ALT":12,"DNA":1.07e6,"HBeAg":"Positive"},{"ALT":13,"DNA":780000,"HBeAg":"Positive"},{"ALT":16,"DNA":720000,"HBeAg":"Positive"},{"ALT":21,"DNA":740000,"HBeAg":"Positive"},{"ALT":23,"DNA":610000,"HBeAg":"Positive"},{"ALT":27,"DNA":660000,"HBeAg":"Positive"},{"ALT":15,"DNA":420000,"HBeAg":"Positive"},{"ALT":32,"DNA":370000,"HBeAg":"Positive"},{"ALT":34,"DNA":225000,"HBeAg":"Positive"},{"ALT":15,"DNA":164000,"HBeAg":"Positive"},{"ALT":28,"DNA":178000,"HBeAg":"Positive"},{"ALT":25,"DNA":270000,"HBeAg":"Positive"},
{"ALT":5,"DNA":20000,"HBeAg":"Positive"},{"ALT":10,"DNA":99000,"HBeAg":"Positive"},{"ALT":15,"DNA":80500,"HBeAg":"Positive"},{"ALT":12,"DNA":24000,"HBeAg":"Positive"},{"ALT":11,"DNA":9300,"HBeAg":"Positive"},{"ALT":9,"DNA":7100,"HBeAg":"Positive"},{"ALT":10,"DNA":6600,"HBeAg":"Positive"},{"ALT":10,"DNA":5200,"HBeAg":"Positive"},{"ALT":11,"DNA":4800,"HBeAg":"Positive"},{"ALT":9,"DNA":3200,"HBeAg":"Positive"},{"ALT":10,"DNA":3200,"HBeAg":"Positive"},{"ALT":15,"DNA":13800,"HBeAg":"Positive"},{"ALT":16,"DNA":14500,"HBeAg":"Positive"},{"ALT":16,"DNA":10800,"HBeAg":"Positive"},{"ALT":15,"DNA":8300,"HBeAg":"Positive"},{"ALT":17,"DNA":6100,"HBeAg":"Positive"},{"ALT":17,"DNA":2500,"HBeAg":"Positive"},{"ALT":11,"DNA":1900,"HBeAg":"Positive"},{"ALT":22,"DNA":20400,"HBeAg":"Positive"},{"ALT":25,"DNA":2500,"HBeAg":"Positive"},{"ALT":21,"DNA":10000,"HBeAg":"Positive"},{"ALT":10,"DNA":820,"HBeAg":"Positive"},{"ALT":8,"DNA":660,"HBeAg":"Positive"},{"ALT":7,"DNA":260,"HBeAg":"Positive"},{"ALT":9,"DNA":240,"HBeAg":"Positive"},{"ALT":13,"DNA":460,"HBeAg":"Positive"},{"ALT":19,"DNA":510,"HBeAg":"Positive"},{"ALT":15,"DNA":270,"HBeAg":"Positive"},{"ALT":15,"DNA":210,"HBeAg":"Positive"},{"ALT":14,"DNA":140,"HBeAg":"Positive"},{"ALT":19,"DNA":170,"HBeAg":"Positive"},{"ALT":19,"DNA":126,"HBeAg":"Positive"},{"ALT":19,"DNA":102,"HBeAg":"Positive"},{"ALT":8,"DNA":100,"HBeAg":"Positive"},{"ALT":16,"DNA":74,"HBeAg":"Positive"},{"ALT":6,"DNA":40,"HBeAg":"Positive"},{"ALT":20,"DNA":28,"HBeAg":"Positive"},{"ALT":11,"DNA":20,"HBeAg":"Positive"},{"ALT":18,"DNA":20,"HBeAg":"Positive"},{"ALT":19,"DNA":20,"HBeAg":"Positive"},{"ALT":23,"DNA":20,"HBeAg":"Positive"},{"ALT":26,"DNA":20,"HBeAg":"Positive"},{"ALT":38,"DNA":100,"HBeAg":"Positive"},{"ALT":60,"DNA":60,"HBeAg":"Positive"},{"ALT":35,"DNA":350,"HBeAg":"Positive"},{"ALT":31,"DNA":2400,"HBeAg":"Positive"},{"ALT":29,"DNA":1180,"HBeAg":"Positive"},{"ALT":27,"DNA":1120,"HBeAg":"Positive"},{"ALT":37,"DNA":5900,"HBeAg":"Positive"},{"ALT":34,"DNA":32000,"HBeAg":"Positive"},
{"ALT":22,"DNA":2.1e7,"HBeAg":"Unknown"},{"ALT":17,"DNA":4.0e6,"HBeAg":"Unknown"},{"ALT":31,"DNA":680000,"HBeAg":"Unknown"},{"ALT":51,"DNA":3.5e7,"HBeAg":"Unknown"},{"ALT":12,"DNA":96800,"HBeAg":"Unknown"},{"ALT":12,"DNA":14100,"HBeAg":"Unknown"},{"ALT":20,"DNA":10800,"HBeAg":"Unknown"},{"ALT":13,"DNA":2480,"HBeAg":"Unknown"},{"ALT":15,"DNA":2680,"HBeAg":"Unknown"},{"ALT":14,"DNA":1500,"HBeAg":"Unknown"},{"ALT":20,"DNA":1150,"HBeAg":"Unknown"},{"ALT":9,"DNA":890,"HBeAg":"Unknown"},{"ALT":12,"DNA":780,"HBeAg":"Unknown"},{"ALT":13,"DNA":700,"HBeAg":"Unknown"},{"ALT":17,"DNA":510,"HBeAg":"Unknown"},{"ALT":21,"DNA":600,"HBeAg":"Unknown"},{"ALT":23,"DNA":400,"HBeAg":"Unknown"},{"ALT":36,"DNA":370,"HBeAg":"Unknown"},{"ALT":7,"DNA":340,"HBeAg":"Unknown"},{"ALT":11,"DNA":240,"HBeAg":"Unknown"},{"ALT":22,"DNA":200,"HBeAg":"Unknown"},{"ALT":17,"DNA":118,"HBeAg":"Unknown"},{"ALT":17,"DNA":102,"HBeAg":"Unknown"},{"ALT":17,"DNA":90,"HBeAg":"Unknown"},{"ALT":15,"DNA":110,"HBeAg":"Unknown"},{"ALT":13,"DNA":90,"HBeAg":"Unknown"},{"ALT":16,"DNA":36,"HBeAg":"Unknown"},{"ALT":33,"DNA":50,"HBeAg":"Unknown"},{"ALT":11,"DNA":28,"HBeAg":"Unknown"},{"ALT":15,"DNA":28,"HBeAg":"Unknown"},{"ALT":17,"DNA":20,"HBeAg":"Unknown"},{"ALT":20,"DNA":20,"HBeAg":"Unknown"},{"ALT":8,"DNA":9,"HBeAg":"Unknown"},{"ALT":16,"DNA":9,"HBeAg":"Unknown"}
]},
"layer":[
{"mark":{"type":"rule","color":"#c8dbf3","strokeWidth":2},"encoding":{"y":{"datum":200000,"type":"quantitative"}}},
{"mark":{"type":"point","size":90,"strokeWidth":1.4,"opacity":1},
"encoding":{
"x":{"field":"ALT","type":"quantitative","scale":{"domain":[0,105],"nice":false,"zero":false},"axis":{"values":[0,10,20,30,40,50,60,70,80,90,100],"title":"ALT (U/L)","tickSize":9,"labelPadding":10,"titlePadding":17}},
"y":{"field":"DNA","type":"quantitative","scale":{"type":"log","domain":[2,3.4e9],"nice":false},"axis":{"values":[2,20,200,2000,20000,200000,2000000,20000000,200000000,2000000000],"labelExpr":"'2x10' + ['⁰','¹','²','³','⁴','⁵','⁶','⁷','⁸','⁹'][round(log(datum.value/2)/LN10)]","labelFontSize":25,"title":"HBV DNA (IU/mL)","tickSize":6,"labelPadding":5,"titlePadding":20}},
"shape":{"field":"HBeAg","type":"nominal","scale":{"domain":["Negative","Positive","Unknown"],"range":["circle","M-1,-0.55L-0.55,-1L0,-0.45L0.55,-1L1,-0.55L0.45,0L1,0.55L0.55,1L0,0.45L-0.55,1L-1,0.55L-0.45,0Z","triangle-up"]},
 "legend":{"title":"HBeAg","orient":"none","legendX":1072,"legendY":80,"titleFontSize":25,"titleFontWeight":"bold","titleFont":"Lato","titleColor":"#111111","titlePadding":33,"titleAnchor":"middle","labelFontSize":25,"labelFont":"Lato","labelColor":"#111111","rowPadding":39,"symbolSize":55,"symbolStrokeWidth":1.3,"labelOffset":5}},
"stroke":{"field":"HBeAg","type":"nominal","scale":{"domain":["Negative","Positive","Unknown"],"range":["#c0504d","#4f82d6","#16a34a"]},"legend":{"title":"HBeAg"}},
"fill":{"field":"HBeAg","type":"nominal","scale":{"domain":["Negative","Positive","Unknown"],"range":["transparent","#4f82d6","#16a34a"]},"legend":{"title":"HBeAg"}}
}}
]
}
